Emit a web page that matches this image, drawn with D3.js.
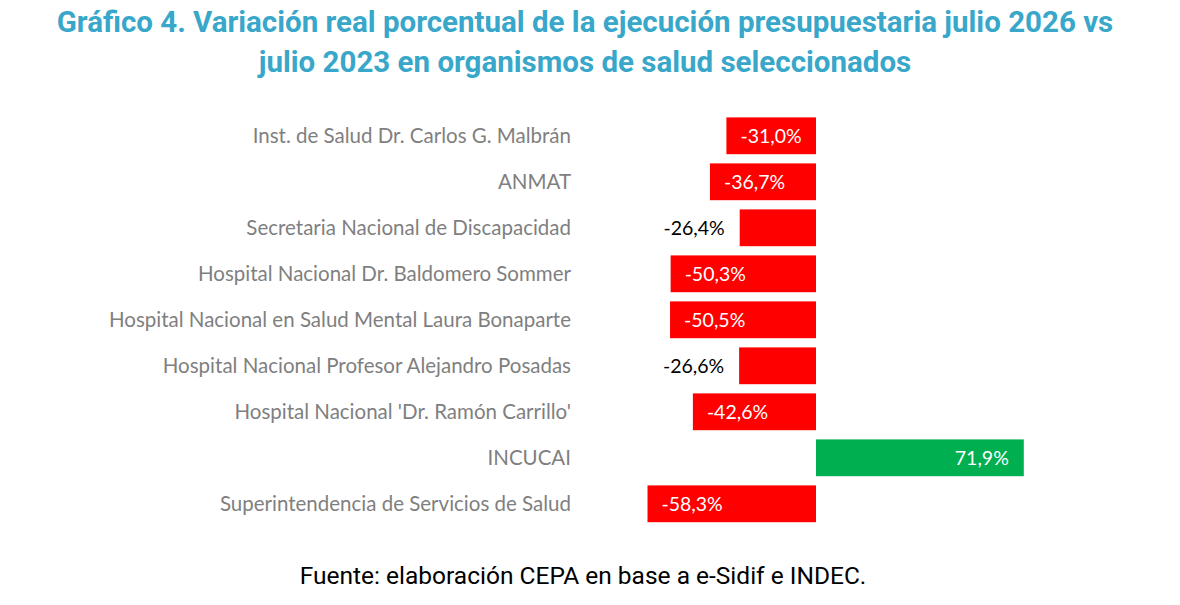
<!DOCTYPE html>
<html>
<head>
<meta charset="utf-8">
<script src="https://cdn.jsdelivr.net/npm/d3@7"></script>
<style>
  body { margin: 0; background: #fff; }
</style>
</head>
<body>
<div id="chart"></div>
<script>
// organismos y variación real (%)
const categories = [
  "Inst. de Salud Dr. Carlos G. Malbrán",
  "ANMAT",
  "Secretaria Nacional de Discapacidad",
  "Hospital Nacional Dr. Baldomero Sommer",
  "Hospital Nacional en Salud Mental Laura Bonaparte",
  "Hospital Nacional Profesor Alejandro Posadas",
  "Hospital Nacional 'Dr. Ramón Carrillo'",
  "INCUCAI",
  "Superintendencia de Servicios de Salud"
];
const values = [-31.0, -36.7, -26.4, -50.3, -50.5, -26.6, -42.6, 71.9, -58.3];
const titleLines = [
  "Gráfico 4. Variación real porcentual de la ejecución presupuestaria julio 2026 vs",
  "julio 2023 en organismos de salud seleccionados"
];
const source = "Fuente: elaboración CEPA en base a e-Sidif e INDEC.";

const width = 1180, height = 605;
const data = categories.map((c, i) => ({ name: c, value: values[i] }));
// formato con coma decimal y guion simple
const fmt = v => (v < 0 ? "-" : "") + Math.abs(v).toFixed(1).replace(".", ",") + "%";

const svg = d3.select("#chart").append("svg")
  .attr("width", width)
  .attr("height", height);

let x = d3.scaleLinear()
  .domain([-60, 75])
  .range([642.6, 1032.75]);

let y = d3.scaleBand()
  .domain(categories)
  .range([112.8, 526.8])
  .paddingInner(0.2)
  .paddingOuter(0.1);

// titulo
svg.append("g").selectAll("text")
  .data(titleLines)
  .enter().append("text")
  .attr("x", 585)
  .attr("y", (d, i) => 32 + i * 40)
  .attr("text-anchor", "middle")
  .style("font-family", "Roboto")
  .style("font-weight", "bold")
  .style("font-size", "29.5px")
  .style("fill", "#38A7C9")
  .text(d => d);

// barras
let rows = svg.append("g").selectAll(".row")
  .data(data)
  .enter().append("g")
  .attr("class", "row");

rows.append("rect")
  .attr("x", d => x(Math.min(0, d.value)))
  .attr("y", d => y(d.name))
  .attr("width", d => Math.abs(x(d.value) - x(0)))
  .attr("height", y.bandwidth())
  .style("fill", d => d.value < 0 ? "#FF0000" : "#00B050");

// etiquetas de categorias
rows.append("text")
  .attr("x", 571)
  .attr("y", d => y(d.name) + y.bandwidth() / 2)
  .attr("dy", "0.35em")
  .attr("text-anchor", "end")
  .style("font-family", "Lato")
  .style("font-size", "20.5px")
  .style("fill", "#7F7F7F")
  .text(d => d.name);

// etiquetas de valores
rows.append("text")
  .attr("x", d => {
    if (d.value > 0) return x(d.value) - 15;
    if (Math.abs(d.value) < 30) return x(d.value) - 15;
    return x(d.value) + 14;
  })
  .attr("y", d => y(d.name) + y.bandwidth() / 2)
  .attr("dy", "0.36em")
  .attr("text-anchor", d => (d.value > 0 || Math.abs(d.value) < 30) ? "end" : "start")
  .style("font-family", "Lato")
  .style("font-size", "19.5px")
  .style("fill", d => Math.abs(d.value) < 30 ? "#000" : "#fff")
  .text(d => fmt(d.value));

// fuente
svg.append("text")
  .attr("x", 583)
  .attr("y", 584)
  .attr("text-anchor", "middle")
  .style("font-family", "Roboto")
  .style("font-size", "24.5px")
  .style("fill", "#000")
  .text(source);
</script>
</body>
</html>
